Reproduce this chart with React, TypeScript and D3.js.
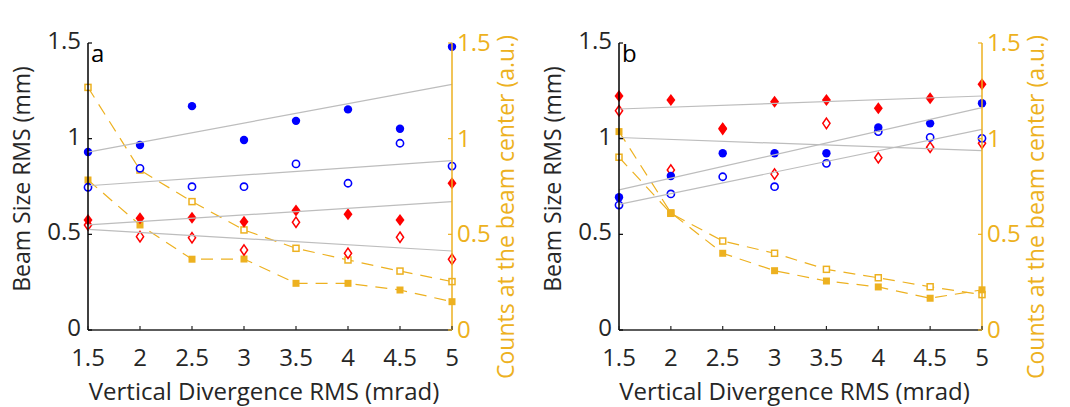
import React from "react";
import * as d3 from "d3";

const xs = [1.5, 2, 2.5, 3, 3.5, 4, 4.5, 5];
const xTicks = [1.5, 2, 2.5, 3, 3.5, 4, 4.5, 5];
const yTicks = [0, 0.5, 1, 1.5];

const aBlueFilled = [0.93, 0.967, 1.17, 0.993, 1.093, 1.153, 1.052, 1.48];
const aBlueOpen = [0.746, 0.845, 0.749, 0.749, 0.868, 0.767, 0.976, 0.857];
const aRedFilled = [0.575, 0.584, 0.587, 0.566, 0.624, 0.605, 0.575, 0.767];
const aRedOpen = [0.549, 0.488, 0.482, 0.418, 0.563, 0.401, 0.485, 0.37];
const aCountsFilled = [0.784, 0.549, 0.37, 0.371, 0.244, 0.244, 0.209, 0.148];
const aCountsOpen = [1.268, 0.836, 0.671, 0.523, 0.427, 0.366, 0.308, 0.253];
const aFits = [
  [0.93, 1.284],
  [0.754, 0.885],
  [0.549, 0.671],
  [0.526, 0.413],
];

const bBlueFilled = [0.694, 0.805, 0.924, 0.924, 0.924, 1.058, 1.08, 1.185];
const bBlueOpen = [0.653, 0.711, 0.801, 0.749, 0.871, 1.037, 1.007, 1.002];
const bRedFilled = [1.223, 1.202, 1.054, 1.193, 1.202, 1.159, 1.211, 1.284];
const bRedOpen = [1.146, 0.836, 1.05, 0.815, 1.08, 0.9, 0.955, 0.976];
const bCountsFilled = [1.037, 0.613, 0.401, 0.31, 0.256, 0.225, 0.166, 0.21];
const bCountsOpen = [0.903, 0.61, 0.465, 0.401, 0.317, 0.273, 0.226, 0.185];
const bFits = [
  [1.155, 1.223],
  [1.006, 0.937],
  [0.732, 1.162],
  [0.657, 1.049],
];

const BLUE = "#0000ff";
const RED = "#ff0000";
const YEL = "#EDB120";
const GRAY = "#bdbdbd";
const TXT = "#262626";
const FONT = "'Open Sans', sans-serif";

type PanelProps = {
  x0: number;
  x1: number;
  letter: string;
  blueF: number[];
  blueO: number[];
  redF: number[];
  redO: number[];
  cntF: number[];
  cntO: number[];
  fits: number[][];
};

function Panel(p: PanelProps) {
  const top = 43;
  const bottom = 330;
  const x = d3.scaleLinear().domain([1.5, 5]).range([p.x0, p.x1]);
  const y = d3.scaleLinear().domain([0, 1.5]).range([bottom, top]);
  const yR = d3.scaleLinear().domain([0, 1.5]).range([bottom, top]);
  const line = (vals: number[], sc: d3.ScaleLinear<number, number>) =>
    d3
      .line<number>()
      .x((_, i) => x(xs[i]))
      .y((v) => sc(v))(vals) || "";
  const diamond = (cx: number, cy: number, w: number, h: number) =>
    `M${cx},${cy - h}L${cx + w},${cy}L${cx},${cy + h}L${cx - w},${cy}Z`;
  const midX = (p.x0 + p.x1) / 2;

  return (
    <g>
      {/* counts dashed lines */}
      <path d={line(p.cntO, yR)} fill="none" stroke={YEL} strokeWidth={1.2} strokeDasharray="12,8" />
      <path d={line(p.cntF, yR)} fill="none" stroke={YEL} strokeWidth={1.2} strokeDasharray="12,8" />
      {p.cntO.map((v, i) => (
        <rect key={"co" + i} x={x(xs[i]) - 3} y={yR(v) - 3} width={6} height={6} fill="white" stroke={YEL} strokeWidth={1.5} />
      ))}
      {p.cntF.map((v, i) => (
        <rect key={"cf" + i} x={x(xs[i]) - 3.5} y={yR(v) - 3.5} width={7} height={7} fill={YEL} />
      ))}
      {/* beam size markers */}
      {p.redO.map((v, i) => (
        <path key={"ro" + i} d={diamond(x(xs[i]), y(v), 3.6, 5.2)} fill="white" stroke={RED} strokeWidth={1.5} />
      ))}
      {p.redF.map((v, i) => (
        <path key={"rf" + i} d={diamond(x(xs[i]), y(v), 4.5, 6)} fill={RED} />
      ))}
      {p.blueO.map((v, i) => (
        <circle key={"bo" + i} cx={x(xs[i])} cy={y(v)} r={3.6} fill="white" stroke={BLUE} strokeWidth={1.6} />
      ))}
      {p.blueF.map((v, i) => (
        <circle key={"bf" + i} cx={x(xs[i])} cy={y(v)} r={4.2} fill={BLUE} />
      ))}
      {/* fits */}
      {p.fits.map((f, i) => (
        <line key={"f" + i} x1={x(1.5)} y1={y(f[0])} x2={x(5)} y2={y(f[1])} stroke={GRAY} strokeWidth={1.2} />
      ))}
      {/* axes */}
      <line x1={p.x0} y1={top} x2={p.x0} y2={bottom} stroke="#000" strokeWidth={1.5} />
      <line x1={p.x0} y1={bottom} x2={p.x1} y2={bottom} stroke={TXT} strokeWidth={1.5} />
      <line x1={p.x1} y1={top} x2={p.x1} y2={bottom} stroke={YEL} strokeWidth={1.5} />
      {xTicks.map((t) => (
        <g key={"xt" + t}>
          <line x1={x(t)} y1={bottom} x2={x(t)} y2={bottom - 4} stroke={TXT} strokeWidth={1.2} />
          <text x={x(t)} y={366} textAnchor="middle" fontFamily={FONT} fontSize={24} fill={TXT}>
            {t}
          </text>
        </g>
      ))}
      {yTicks.map((t) => (
        <g key={"yt" + t}>
          <line x1={p.x0} y1={y(t)} x2={p.x0 + 4} y2={y(t)} stroke="#000" strokeWidth={1.2} />
          <text x={p.x0 - 7} y={y(t) + 6} textAnchor="end" fontFamily={FONT} fontSize={24} fill={TXT}>
            {t}
          </text>
          <line x1={p.x1} y1={yR(t)} x2={p.x1 - 4} y2={yR(t)} stroke={YEL} strokeWidth={1.2} />
          <text x={p.x1 + 5} y={yR(t) + 8} textAnchor="start" fontFamily={FONT} fontSize={24} fill={YEL}>
            {t}
          </text>
        </g>
      ))}
      <text x={p.x0 + 3} y={62} fontFamily={FONT} fontSize={24} fill="#000">
        {p.letter}
      </text>
      <text x={midX - 6} y={400} textAnchor="middle" fontFamily={FONT} fontSize={24} fill={TXT}>
        Vertical Divergence RMS (mrad)
      </text>
      <text
        transform={`translate(${p.x0 - 58},${179}) rotate(-90)`}
        textAnchor="middle"
        fontFamily={FONT}
        fontSize={23}
        fill={TXT}
      >
        Beam Size RMS (mm)
      </text>
      <text
        transform={`translate(${p.x1 + 62},${207}) rotate(-90)`}
        textAnchor="middle"
        fontFamily={FONT}
        fontSize={23}
        fill={YEL}
      >
        Counts at the beam center (a.u.)
      </text>
    </g>
  );
}

export default function App() {
  return (
    <svg width={1070} height={407} style={{ position: "absolute", left: 0, top: 0, background: "white" }}>
      <rect width={1070} height={407} fill="white" />
      <Panel
        x0={88}
        x1={452}
        letter="a"
        blueF={aBlueFilled}
        blueO={aBlueOpen}
        redF={aRedFilled}
        redO={aRedOpen}
        cntF={aCountsFilled}
        cntO={aCountsOpen}
        fits={aFits}
      />
      <Panel
        x0={619}
        x1={982}
        letter="b"
        blueF={bBlueFilled}
        blueO={bBlueOpen}
        redF={bRedFilled}
        redO={bRedOpen}
        cntF={bCountsFilled}
        cntO={bCountsOpen}
        fits={bFits}
      />
    </svg>
  );
}
